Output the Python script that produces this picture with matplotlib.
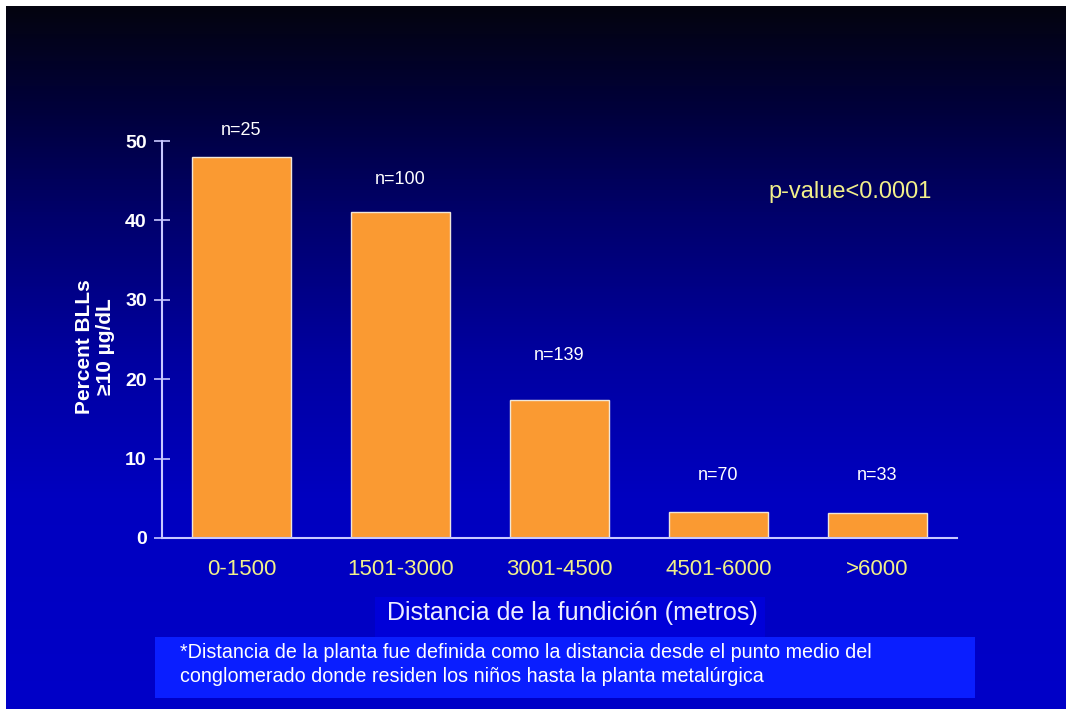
import numpy as np
import matplotlib
matplotlib.use('Agg')
import matplotlib.pyplot as plt
from matplotlib.colors import LinearSegmentedColormap
from matplotlib.patches import Rectangle

# ---- data ----
categories = ['0-1500', '1501-3000', '3001-4500', '4501-6000', '>6000']
percent = [48.0, 41.0, 17.4, 3.3, 3.1]
n_labels = ['n=25', 'n=100', 'n=139', 'n=70', 'n=33']
y_ticks = [0, 10, 20, 30, 40, 50]
# annotation heights (data units) for the n= labels
n_label_y = [51.3, 45.1, 23.0, 7.9, 7.9]

ylabel_text = 'Percent BLLs\n\u226510 \u00b5g/dL'
xlabel_text = 'Distancia de la fundici\u00f3n (metros)'
pvalue_text = 'p-value<0.0001'
footnote_1 = '*Distancia de la planta fue definida como la distancia desde el punto medio del'
footnote_2 = 'conglomerado donde residen los ni\u00f1os hasta la planta metal\u00fargica'

plt.rcParams['font.family'] = ['Liberation Sans', 'DejaVu Sans']

W, H = 1066, 709
fig = plt.figure(figsize=(W / 100, H / 100), dpi=100, facecolor='white')

# background gradient
bg = fig.add_axes([6 / W, 0, 1 - 6 / W, 1 - 6 / H])
bg.axis('off')
cmap = LinearSegmentedColormap.from_list('bg', [
    (0.0, '#04040f'), (0.15, '#00003c'), (0.3, '#00006c'),
    (0.5, '#0000a0'), (0.7, '#0000c0'), (1.0, '#0000c8')])
grad = np.linspace(0, 1, 512).reshape(-1, 1)
bg.imshow(grad, aspect='auto', cmap=cmap, extent=[0, 1, 0, 1], origin='upper')
bg.set_xlim(0, 1)
bg.set_ylim(0, 1)

# boxes behind x-label and footnote
bg.add_patch(Rectangle((375 / W, 1 - 637 / H), (765 - 375) / W, 40 / H,
                       transform=fig.transFigure, facecolor='#0000d8', edgecolor='none'))
bg.add_patch(Rectangle((155 / W, 1 - 698 / H), (975 - 155) / W, 61 / H,
                       transform=fig.transFigure, facecolor='#0a1eff', edgecolor='none'))

# main axes
ax = fig.add_axes([162 / W, 1 - 538 / H, (957 - 162) / W, (538 - 141) / H])
ax.patch.set_alpha(0)
x = np.arange(len(categories))
ax.bar(x, percent, width=0.62, color='#fa9a32', edgecolor='#f0e6d8', linewidth=1)
ax.set_xlim(-0.5, 4.5)
ax.set_ylim(0, 50)
for s in ['top', 'right']:
    ax.spines[s].set_visible(False)
for s in ['left', 'bottom']:
    ax.spines[s].set_color('#c8c8ff')
    ax.spines[s].set_linewidth(1.5)
ax.set_yticks(y_ticks)
ax.set_yticklabels([str(t) for t in y_ticks], fontsize=14, fontweight='bold', color='white')
ax.tick_params(axis='y', direction='inout', length=12, color='#c8c8ff', width=1.2, pad=5)
ax.set_xticks(x)
ax.set_xticklabels(categories, fontsize=16, color='#f2f08a')
ax.tick_params(axis='x', length=0, pad=15)

for xi, lbl, yy in zip(x, n_labels, n_label_y):
    ax.text(xi, yy, lbl, ha='center', va='center', color='white', fontsize=13)

fig.text(768 / W, 1 - 192 / H, pvalue_text, ha='left', va='center', color='#f2f08a', fontsize=17)
fig.text(95 / W, 1 - 347 / H, ylabel_text, ha='center', va='center', rotation=90,
         color='white', fontsize=15, fontweight='bold', multialignment='center', linespacing=1.1)
fig.text((388 + 757) / 2 / W, 1 - 613 / H, xlabel_text, ha='center', va='center',
         color='#eeeeff', fontsize=18)
fig.text(180 / W, 1 - 652 / H, footnote_1, ha='left', va='center', color='white', fontsize=14.2)
fig.text(180 / W, 1 - 677 / H, footnote_2, ha='left', va='center', color='white', fontsize=14.2)

fig.savefig('out.png', dpi=100, facecolor='white')
